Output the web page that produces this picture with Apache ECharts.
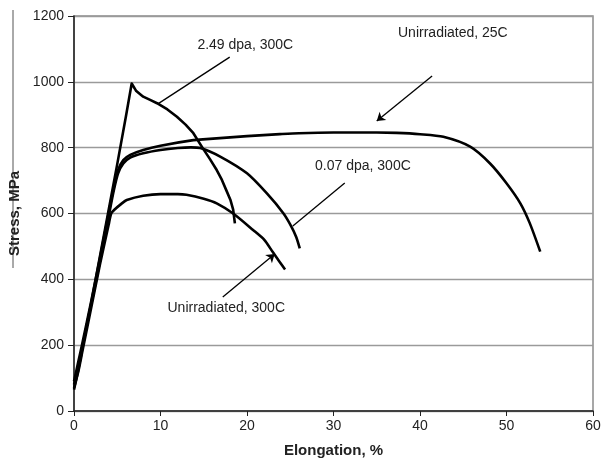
<!DOCTYPE html>
<html>
<head>
<meta charset="utf-8">
<script src="https://cdn.jsdelivr.net/npm/echarts@6/dist/echarts.min.js"></script>
<style>
  html, body { margin: 0; padding: 0; background: #fff; }
  #chart { width: 601px; height: 465px; }
</style>
</head>
<body>
<div id="chart"></div>
<script>
// stress-strain curves, [elongation %, stress MPa]
const dpa249 = [[0,65],[0.5,125],[1,195],[2,330],[3,470],[4,610],[5,750],[6,895],[6.67,995],[7.2,972],[8,955],[8.8,945],[9.6,935],[10.8,916],[11.9,894],[12.9,870],[13.8,844],[14.9,798],[15.7,766],[16.5,732],[17.1,702],[17.6,671],[18.1,640],[18.4,612],[18.6,570]];
const unirr25 = [[0,90],[0.5,150],[1,210],[2,335],[3,465],[4,600],[4.6,680],[5.1,732],[5.7,762],[6.5,778],[8,793],[10,806],[13.8,823],[15.3,826],[20,835],[23.8,841],[26,844],[30,846],[35,846],[37.3,845],[40,841],[42.7,833],[45.8,803],[48.1,752],[50,692],[51.6,631],[52.7,570],[53.9,484]];
const dpa007 = [[0,80],[0.5,135],[1,200],[2,325],[3,455],[4,590],[4.6,670],[5.1,722],[5.7,752],[6.5,770],[8,783],[10,793],[12,799],[13.5,801],[14.6,799],[16.9,773],[20,722],[22.3,661],[24.2,601],[25.1,562],[25.7,528],[26.1,494]];
const unirr300 = [[0,70],[0.5,120],[1,185],[2,315],[3,445],[4,565],[4.3,600],[4.7,612],[5.5,630],[6.1,641],[8,654],[10,659],[12,659],[13,657],[15,645],[16.5,631],[18.4,600],[20.7,550],[22,520],[23,482],[23.8,452],[24.4,430]];

// annotation texts, where they sit and their leader lines (data coords)
const noteText = ['2.49 dpa, 300C', 'Unirradiated, 25C', '0.07 dpa, 300C', 'Unirradiated, 300C'];
const notePos = [[19.8, 1112], [43.8, 1148], [33.4, 744], [17.6, 313]];
const noteFrom = [[18.0, 1075], [41.4, 1018], [31.3, 693], [17.2, 346]];
const noteTo = [[9.7, 933], [35.0, 881], [25.3, 562], [23.2, 477]];
const noteArrow = [false, true, false, true];

const font = 'Liberation Sans, Arial, sans-serif';

var dom = document.getElementById('chart');
var myChart = echarts.init(dom);

function curve(name, data, smooth) {
  return {
    name: name,
    type: 'line',
    data: data,
    showSymbol: false,
    smooth: smooth,
    lineStyle: { color: '#000', width: 2.6, join: 'round' },
    silent: true
  };
}

var lines = [];
var texts = [];
for (let i = 0; i < noteText.length; i++) {
  lines.push([
    { coord: noteFrom[i], symbol: 'none' },
    { coord: noteTo[i], symbol: noteArrow[i] ? 'arrow' : 'none' }
  ]);
  texts.push({
    coord: notePos[i],
    symbol: 'circle',
    symbolSize: 0,
    label: { show: true, position: 'inside', formatter: noteText[i], color: '#222', fontSize: 14, fontFamily: font }
  });
}

var series = [
  curve('2.49 dpa, 300C', dpa249, false),
  curve('Unirradiated, 25C', unirr25, 0.25),
  curve('0.07 dpa, 300C', dpa007, 0.25),
  curve('Unirradiated, 300C', unirr300, 0.25)
];
series[0].markLine = {
  silent: true,
  symbolSize: 8,
  label: { show: false },
  lineStyle: { color: '#000', width: 1.3, type: 'solid' },
  data: lines
};
series[0].markPoint = { silent: true, data: texts };

var option = {
  animation: false,
  grid: {
    left: 74, right: 8, top: 16, bottom: 54,
    outerBoundsMode: 'none',
    containLabel: false,
    show: true, borderColor: '#8a8a8a', borderWidth: 1.5
  },
  xAxis: {
    type: 'value',
    min: 0, max: 60, interval: 10,
    name: 'Elongation, %',
    nameLocation: 'middle',
    nameGap: 32,
    nameTextStyle: { fontSize: 15, fontWeight: 'bold', color: '#222', fontFamily: font },
    axisLine: { show: true, lineStyle: { color: '#222', width: 1.5 } },
    axisTick: { show: true, length: 5, lineStyle: { color: '#222' } },
    axisLabel: { fontSize: 14, color: '#222', margin: 8, fontFamily: font, formatter: v => String(v) },
    splitLine: { show: false }
  },
  yAxis: {
    type: 'value',
    min: 0, max: 1200, interval: 200,
    name: 'Stress, MPa',
    nameLocation: 'middle',
    nameRotate: 90,
    nameGap: 46,
    nameTextStyle: { fontSize: 15, fontWeight: 'bold', color: '#222', fontFamily: font },
    axisLine: { show: true, lineStyle: { color: '#222', width: 1.5 } },
    axisTick: { show: true, length: 6, lineStyle: { color: '#222' } },
    axisLabel: { fontSize: 14, color: '#222', margin: 10, fontFamily: font, formatter: v => String(v) },
    splitLine: { show: true, lineStyle: { color: '#9a9a9a', width: 1.3 } }
  },
  graphic: [{
    type: 'line',
    shape: { x1: 13, y1: 10, x2: 13, y2: 268 },
    style: { stroke: '#555', lineWidth: 1 },
    silent: true
  }],
  series: series
};

if (option && typeof option === 'object') {
  myChart.setOption(option, true);
}
</script>
</body>
</html>
